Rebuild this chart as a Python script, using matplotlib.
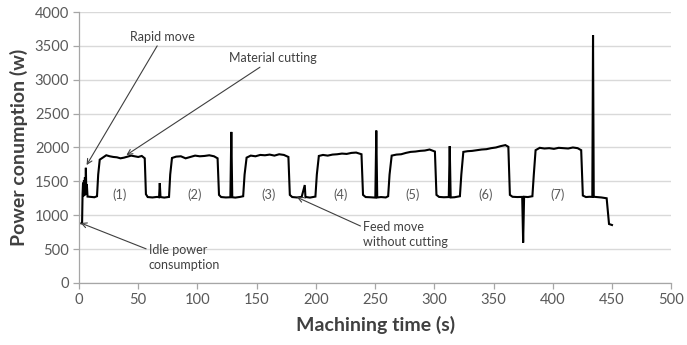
import matplotlib
matplotlib.use("Agg")
import matplotlib.pyplot as plt

plt.rcParams['font.family'] = ['Lato', 'DejaVu Sans']

# Spindle power log (time in s, power in W)
time_s = [
    2, 2.6, 3.0, 3.4, 3.8, 4.2, 4.6, 5.0, 5.4, 5.8, 6.2, 6.6, 7.2, 10, 13, 15.2,
    16.2, 17.5, 20, 23, 26, 29, 32, 35, 38, 41, 44, 47, 50, 53, 55.5,
    56.5, 58, 62, 66, 67.6, 68.2, 68.8, 72, 76,
    77, 78.5, 82, 86, 90, 94, 98, 102, 106, 110, 114, 117,
    118.2, 120, 124, 127.8, 128.6, 129.4, 132, 136, 138.6,
    139.8, 141.5, 145, 149, 153, 157, 161, 165, 169, 173, 176.8,
    178, 180, 184, 188, 190.6, 191.2, 191.8, 195, 199.6,
    200.8, 202.5, 206, 210, 214, 218, 222, 226, 230, 234, 238.5,
    239.8, 242, 246, 250.2, 251, 251.8, 255, 259, 261,
    262.2, 264, 268, 272, 276, 280, 284, 288, 292, 296, 300.5,
    301.8, 304, 308, 312.2, 313, 313.8, 317, 321.6,
    322.8, 324.5, 328, 332, 336, 340, 344, 348, 352, 356, 360, 362.5,
    363.8, 366, 370, 374.2, 375, 375.8, 379, 382.8,
    384, 385.5, 389, 393, 397, 401, 405, 409, 413, 417, 421, 424,
    425.4, 428, 431, 433.4, 434, 434.6, 437, 441, 445.5, 447.5, 450,
]
power_w = [
    880, 885, 1310, 1480, 1280, 1520, 1290, 1560, 1300, 1700, 1300, 1460, 1275, 1270, 1265, 1280,
    1600, 1820, 1850, 1885, 1870, 1860, 1855, 1840, 1850, 1865, 1880, 1870, 1860, 1875, 1840,
    1310, 1268, 1262, 1270, 1265, 1475, 1268, 1260, 1270,
    1600, 1845, 1865, 1870, 1840, 1860, 1880, 1870, 1875, 1885, 1870, 1840,
    1300, 1268, 1262, 1265, 2230, 1265, 1260, 1270, 1280,
    1600, 1850, 1880, 1870, 1890, 1885, 1895, 1880, 1900, 1890, 1860,
    1300, 1268, 1262, 1270, 1445, 1265, 1268, 1260, 1275,
    1600, 1875, 1890, 1880, 1895, 1900, 1910, 1905, 1920, 1925, 1900,
    1300, 1268, 1265, 1260, 2250, 1262, 1268, 1262, 1280,
    1600, 1880, 1895, 1900, 1920, 1935, 1940, 1950, 1955, 1970, 1940,
    1300, 1270, 1265, 1268, 2020, 1262, 1265, 1280,
    1600, 1935, 1945, 1950, 1960, 1970, 1975, 1990, 2000, 2020, 2035, 2010,
    1300, 1272, 1268, 1270, 595, 1272, 1268, 1280,
    1600, 1960, 1995, 1985, 1990, 1980, 1995, 1990, 1985, 2000, 1990, 1960,
    1290, 1268, 1272, 1270, 3660, 1272, 1268, 1262, 1250, 870, 855,
]

x_ticks = [0, 50, 100, 150, 200, 250, 300, 350, 400, 450, 500]
y_ticks = [0, 500, 1000, 1500, 2000, 2500, 3000, 3500, 4000]

# Operation numbers placed under each cutting block
op_labels = ["(1)", "(2)", "(3)", "(4)", "(5)", "(6)", "(7)"]
op_label_t = [34, 98, 160, 221, 282, 343, 404]
op_label_p = 1300

text_grey = "#595959"
arrow_grey = "#3f3f3f"

fig = plt.figure(figsize=(6.87, 3.45), dpi=100)
ax = fig.add_axes([0.115, 0.180, 0.862, 0.785])

ax.plot(time_s, power_w, color="black", lw=1.5, solid_joinstyle="miter", zorder=3)

ax.set_xlim(0, 500)
ax.set_ylim(0, 4000)
ax.set_xticks(x_ticks)
ax.set_yticks(y_ticks)
ax.grid(axis="y", color="#d9d9d9", lw=1.0)
ax.set_axisbelow(True)

for side in ("top", "right"):
    ax.spines[side].set_visible(False)
for side in ("left", "bottom"):
    ax.spines[side].set_color("#a6a6a6")
    ax.spines[side].set_linewidth(0.9)

ax.tick_params(axis="both", direction="out", length=4, width=0.9, color="#a6a6a6",
               labelsize=10.6, labelcolor=text_grey, pad=3)

ax.set_xlabel("Machining time (s)", fontsize=14, fontweight="bold", color="#404040", labelpad=7)
ax.set_ylabel("Power conumption (w)", fontsize=14, fontweight="bold", color="#404040", labelpad=5)

for lab, t in zip(op_labels, op_label_t):
    ax.text(t, op_label_p, lab, fontsize=9.2, color=text_grey, ha="center", va="center")

arrow_kw = dict(arrowstyle="->", color=arrow_grey, lw=0.8, shrinkA=0, shrinkB=0)
ax.annotate("Rapid move", xy=(6.4, 1740), xytext=(43, 3630), fontsize=9, color="#404040",
            ha="left", va="center", arrowprops=arrow_kw)
ax.annotate("Material cutting", xy=(40, 1888), xytext=(127, 3315), fontsize=9, color="#404040",
            ha="left", va="center", arrowprops=arrow_kw)
ax.annotate("Idle power\nconsumption", xy=(1.4, 885), xytext=(59, 375), fontsize=9,
            color="#404040", ha="left", va="center", linespacing=1.3,
            arrowprops=dict(arrowstyle="->", color=arrow_grey, lw=0.8, shrinkA=0, shrinkB=0,
                            relpos=(0, 0.78)))
ax.annotate("Feed move\nwithout cutting", xy=(184, 1265), xytext=(240, 710), fontsize=9,
            color="#404040", ha="left", va="center", linespacing=1.3,
            arrowprops=dict(arrowstyle="->", color=arrow_grey, lw=0.8, shrinkA=0, shrinkB=0,
                            relpos=(0, 0.78)))

fig.savefig("out.png", dpi=100)
